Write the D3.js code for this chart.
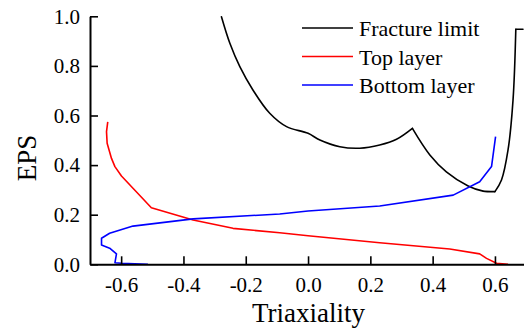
<!DOCTYPE html>
<html>
<head>
<meta charset="utf-8">
<script src="https://cdn.jsdelivr.net/npm/d3@7"></script>
<style>
  body { margin: 0; background: #fff; }
  svg text { font-family: "Liberation Serif", "Times New Roman", serif; fill: #000; }
</style>
</head>
<body>
<div class="canvas"></div>
<script>
// data
var fractureX = [-0.278, -0.251, -0.219, -0.177, -0.123, -0.069, 0.0, 0.038, 0.102, 0.166, 0.23, 0.284, 0.335, 0.391, 0.444, 0.514, 0.562, 0.6, 0.621, 0.642, 0.658, 0.667, 0.69];
var fractureY = [0.998, 0.891, 0.797, 0.703, 0.609, 0.555, 0.528, 0.501, 0.474, 0.468, 0.481, 0.504, 0.548, 0.441, 0.373, 0.316, 0.295, 0.293, 0.34, 0.461, 0.662, 0.948, 0.948];

var topX = [-0.643, -0.647, -0.645, -0.631, -0.62, -0.599, -0.503, -0.369, -0.241, -0.091, 0.0, 0.23, 0.455, 0.551, 0.573, 0.605, 0.642];
var topY = [0.574, 0.535, 0.488, 0.427, 0.394, 0.356, 0.228, 0.179, 0.145, 0.127, 0.115, 0.087, 0.062, 0.042, 0.024, 0.004, 0.0];

var bottomX = [-0.514, -0.599, -0.62, -0.615, -0.637, -0.663, -0.663, -0.637, -0.562, -0.369, -0.091, 0.0, 0.23, 0.466, 0.551, 0.589, 0.602];
var bottomY = [0.0, 0.004, 0.006, 0.042, 0.065, 0.078, 0.105, 0.125, 0.154, 0.183, 0.203, 0.215, 0.235, 0.279, 0.333, 0.394, 0.515];

var xTicks = [-0.6, -0.4, -0.2, 0.0, 0.2, 0.4, 0.6];
var yTicks = [0.0, 0.2, 0.4, 0.6, 0.8, 1.0];

var seriesNames = ["Fracture limit", "Top layer", "Bottom layer"];
var seriesColors = ["#000", "#ff0000", "#0000ff"];

var svg = d3.select(".canvas").append("svg").attr("width", 524).attr("height", 332);

var x = d3.scaleLinear().domain([-0.7, 0.7]).range([90, 526.1]);
var y = d3.scaleLinear().domain([0, 1]).range([264.3, 16.3]);

var line = d3.line()
    .x(d => x(d[0]))
    .y(d => y(d[1]));

var smooth = d3.line()
    .x(d => x(d[0]))
    .y(d => y(d[1]))
    .curve(d3.curveCatmullRom.alpha(0.5));

var fracture = d3.zip(fractureX, fractureY);

// fracture limit: smooth pieces joined at the sharp corners
[[0, 13], [12, 18], [17, 22], [21, 23]].forEach(function (r) {
    svg.append("path")
        .datum(fracture.slice(r[0], r[1]))
        .attr("d", smooth)
        .attr("fill", "none")
        .attr("stroke", seriesColors[0])
        .attr("stroke-width", 1.6)
        .attr("stroke-linejoin", "round")
        .attr("stroke-linecap", "round");
});

[d3.zip(topX, topY), d3.zip(bottomX, bottomY)].forEach(function (pts, i) {
    svg.append("path")
        .datum(pts)
        .attr("d", line)
        .attr("fill", "none")
        .attr("stroke", seriesColors[i + 1])
        .attr("stroke-width", 1.6)
        .attr("stroke-linejoin", "round");
});

// axes
var xAxis = svg.append("g")
    .attr("transform", "translate(0," + y(0) + ")")
    .call(d3.axisBottom(x).tickValues(xTicks).tickSizeInner(-8).tickSizeOuter(0).tickPadding(13)
        .tickFormat(d => d.toFixed(1)));

var yAxis = svg.append("g")
    .attr("transform", "translate(" + x(-0.7) + ",0)")
    .call(d3.axisLeft(y).tickValues(yTicks).tickSizeInner(-8).tickSizeOuter(0).tickPadding(10)
        .tickFormat(d => d.toFixed(1)));

[xAxis, yAxis].forEach(function (a) {
    a.attr("font-family", null).attr("font-size", null);
    a.select(".domain").attr("stroke", "#000").attr("stroke-width", 2);
    a.selectAll(".tick line").attr("stroke", "#000").attr("stroke-width", 1.6);
    a.selectAll(".tick text").attr("fill", "#000").style("font-size", "21px");
});

// axis titles
svg.append("text")
    .attr("transform", "translate(36,158) rotate(-90)")
    .attr("text-anchor", "middle")
    .style("font-size", "27px")
    .text("EPS");

svg.append("text")
    .attr("x", 308.5)
    .attr("y", 322)
    .attr("text-anchor", "middle")
    .style("font-size", "27px")
    .text("Triaxiality");

// legend
seriesNames.forEach(function (name, i) {
    var ly = 28 + i * 28.5;
    svg.append("line")
        .attr("x1", 302).attr("x2", 353)
        .attr("y1", ly).attr("y2", ly)
        .attr("stroke", seriesColors[i])
        .attr("stroke-width", 1.6);
    svg.append("text")
        .attr("x", 359)
        .attr("y", ly + 8)
        .style("font-size", "22px")
        .text(name);
});
</script>
</body>
</html>
